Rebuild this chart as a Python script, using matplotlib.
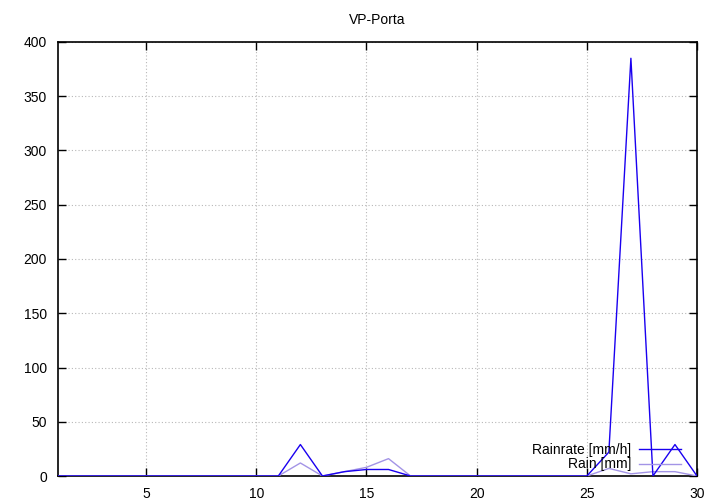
import matplotlib
matplotlib.use('Agg')
import matplotlib.pyplot as plt

# --- data ---
days = list(range(1, 31))
rainrate = [0, 0, 0, 0, 0, 0, 0, 0, 0, 0, 0, 29, 0, 4, 6, 6, 0, 0, 0, 0,
            0, 0, 0, 0, 0, 22, 385, 0, 29, 0]
rain = [0, 0, 0, 0, 0, 0, 0, 0, 0, 0, 0, 12, 0, 4, 8, 16, 0, 0, 0, 0,
        0, 0, 0, 0, 0, 7, 2, 4, 4, 0]
x_ticks = [5, 10, 15, 20, 25, 30]
y_ticks = list(range(0, 401, 50))

plt.rcParams['font.family'] = ['Liberation Sans', 'DejaVu Sans']

fig = plt.figure(figsize=(7.2, 5.04), dpi=100)
ax = fig.add_axes([58 / 720, 28 / 504, 639 / 720, 434 / 504])

ax.plot(days, rainrate, color='#1a00f0', lw=1.0, label='Rainrate [mm/h]', zorder=4)
ax.plot(days, rain, color='#a394e6', lw=1.0, label='Rain [mm]', zorder=3)

ax.set_xlim(1, 30)
ax.set_ylim(0, 400)
ax.set_xticks(x_ticks)
ax.set_yticks(y_ticks)
ax.tick_params(direction='in', length=6, width=1, top=True, right=True,
               labelsize=10, pad=8)
ax.grid(True, color='#b8b8b8', linestyle=(0, (1, 2)), lw=0.8)
for s in ax.spines.values():
    s.set_linewidth(1.2)

ax.set_title('VP-Porta', fontsize=10, pad=13)

ax.legend(loc='lower right', bbox_to_anchor=(0.99, -0.012), frameon=False,
          markerfirst=False, handlelength=3.0, fontsize=10,
          labelspacing=0.05, borderaxespad=0.3, handletextpad=0.6)

fig.savefig('out.png', dpi=100)
